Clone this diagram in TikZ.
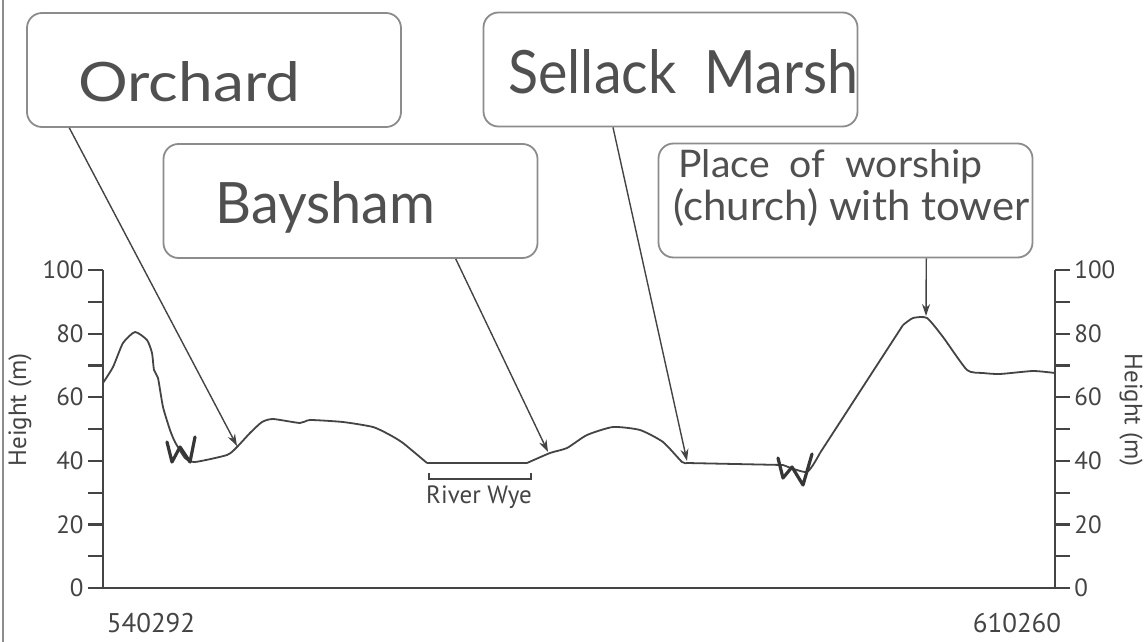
\documentclass[tikz,border=0pt]{standalone}
\usepackage{fontspec}
\setmainfont{PT Sans}
\newfontfamily\hand{Lato}
\usetikzlibrary{arrows.meta,calc}
\definecolor{ink}{HTML}{444444}
\definecolor{hwc}{HTML}{505050}
\definecolor{boxc}{HTML}{8C8C8C}
\begin{document}
\begin{tikzpicture}[x=0.5pt,y=-0.5pt,
  box/.style={draw=boxc,line width=0.9pt,rounded corners=7.5pt,minimum width=187pt,minimum height=57pt,inner sep=0pt},
  hw/.style={text=hwc,inner sep=0pt,anchor=base west},
  arr/.style={draw=ink,line width=0.7pt,-{Stealth[length=6pt,width=4pt]}},
  axisline/.style={draw=ink,line width=1.1pt},
  prof/.style={draw=ink,line width=0.9pt,line join=round},
  wmark/.style={draw=ink!80!black,line width=1.6pt,line join=round,line cap=round},
  lab/.style={text=ink,inner sep=0pt,font=\fontsize{12.5}{14}\selectfont}]
\useasboundingbox (0,0) rectangle (1145,642);
\fill[white] (0,0) rectangle (1145,642);
\draw[boxc,line width=1.2pt] (3,0) -- (3,642);

% label boxes
\node[box] (orch) at (214,70) {};
\node[box] (sell) at (670.5,69.5) {};
\node[box] (bays) at (350.5,201) {};
\node[box] (wors) at (845.5,200.5) {};

\node[hw] (orchT) at (78,102) {\resizebox{111pt}{20pt}{\hand Orchard}};
\node[hw] (sellT) at (508,93) {\resizebox{175pt}{22pt}{\hand Sellack\ \ Marsh}};
\node[hw] (baysT) at (215,223) {\resizebox{110pt}{21pt}{\hand Baysham}};
\node[hw] (worsT1) at (678,177) {\resizebox{152pt}{14pt}{\hand Place\ \ of\ \ worship}};
\node[hw] (worsT2) at (673,220) {\resizebox{178pt}{16pt}{\hand (church) with\ tower}};

% axes
\draw[axisline] (103,270) -- (103,588) -- (1055,588) -- (1055,270);
\foreach \h in {0,10,...,100}{
  \draw[axisline] (88,{588-3.18*\h}) -- (103,{588-3.18*\h});
  \draw[axisline] (1055,{588-3.18*\h}) -- (1070,{588-3.18*\h});
}
\foreach \h in {0,20,...,100}{
  \node[lab,anchor=east] (ll\h) at (84,{588-3.18*\h}) {\h};
  \node[lab,anchor=west] (rl\h) at (1074,{588-3.18*\h}) {\h};
}
\node[lab,rotate=90] (ylabL) at (20,410) {Height (m)};
\node[lab,rotate=-90] (ylabR) at (1131,410) {Height (m)};
\node[lab,font=\fontsize{13.5}{15}\selectfont] (xl) at (151,623) {540292};
\node[lab,font=\fontsize{13.5}{15}\selectfont] (xr) at (1017,623) {610260};

% profile
\draw[prof] plot[smooth,tension=0.35] coordinates {
 (103,383) (113,367) (123,343) (135,332) (147,340) (152,353) (154,370) (158,378)
 (163,407) (170,430) (175,442) (185,458) (195,462) (227,455) (237,447) (250,433)
 (262,422) (273,419) (300,423) (310,420) (343,422) (373,427) (390,435) (403,443)
 (427,463)};
\draw[prof] (427,463) -- (527,463);
\draw[prof] plot[smooth,tension=0.35] coordinates {
 (527,463) (550,453) (567,448) (587,435) (613,427) (640,430) (663,442) (682,462) (687,463)};
\draw[prof] (687,463) -- (783,465);
\draw[prof] plot[smooth,tension=0.35] coordinates {
 (783,465) (807,472) (820,453)};
\draw[prof] (820,453) -- (903,325);
\draw[prof] plot[smooth,tension=0.35] coordinates {
 (903,325) (913,318) (927,318) (943,337) (967,370) (983,373) (1000,374) (1033,371) (1055,373)};

% W marks
\draw[wmark] (167,442) -- (172,462) -- (180,447) -- (190,462) -- (195,437);
\draw[wmark] (778,458) -- (783,478) -- (792,467) -- (803,485) -- (812,454);

% River Wye
\draw[ink,line width=0.9pt] (429,473) -- (429,479) -- (531,479) -- (531,473);
\node[lab] (river) at (479,497) {River Wye};

% connectors
\coordinate (orchTip) at (237,446);
\coordinate (baysTip) at (548,452);
\coordinate (sellTip) at (687,461);
\coordinate (worsTip) at (926,316);
\draw[arr] ($(orch.south west)!0.115!(orch.south east)$) -- (orchTip);
\draw[arr] ($(bays.south west)!0.78!(bays.south east)$) -- (baysTip);
\draw[arr] ($(sell.south west)!0.347!(sell.south east)$) -- (sellTip);
\draw[arr] ($(wors.south west)!0.715!(wors.south east)$) -- (worsTip);
\end{tikzpicture}
\end{document}
